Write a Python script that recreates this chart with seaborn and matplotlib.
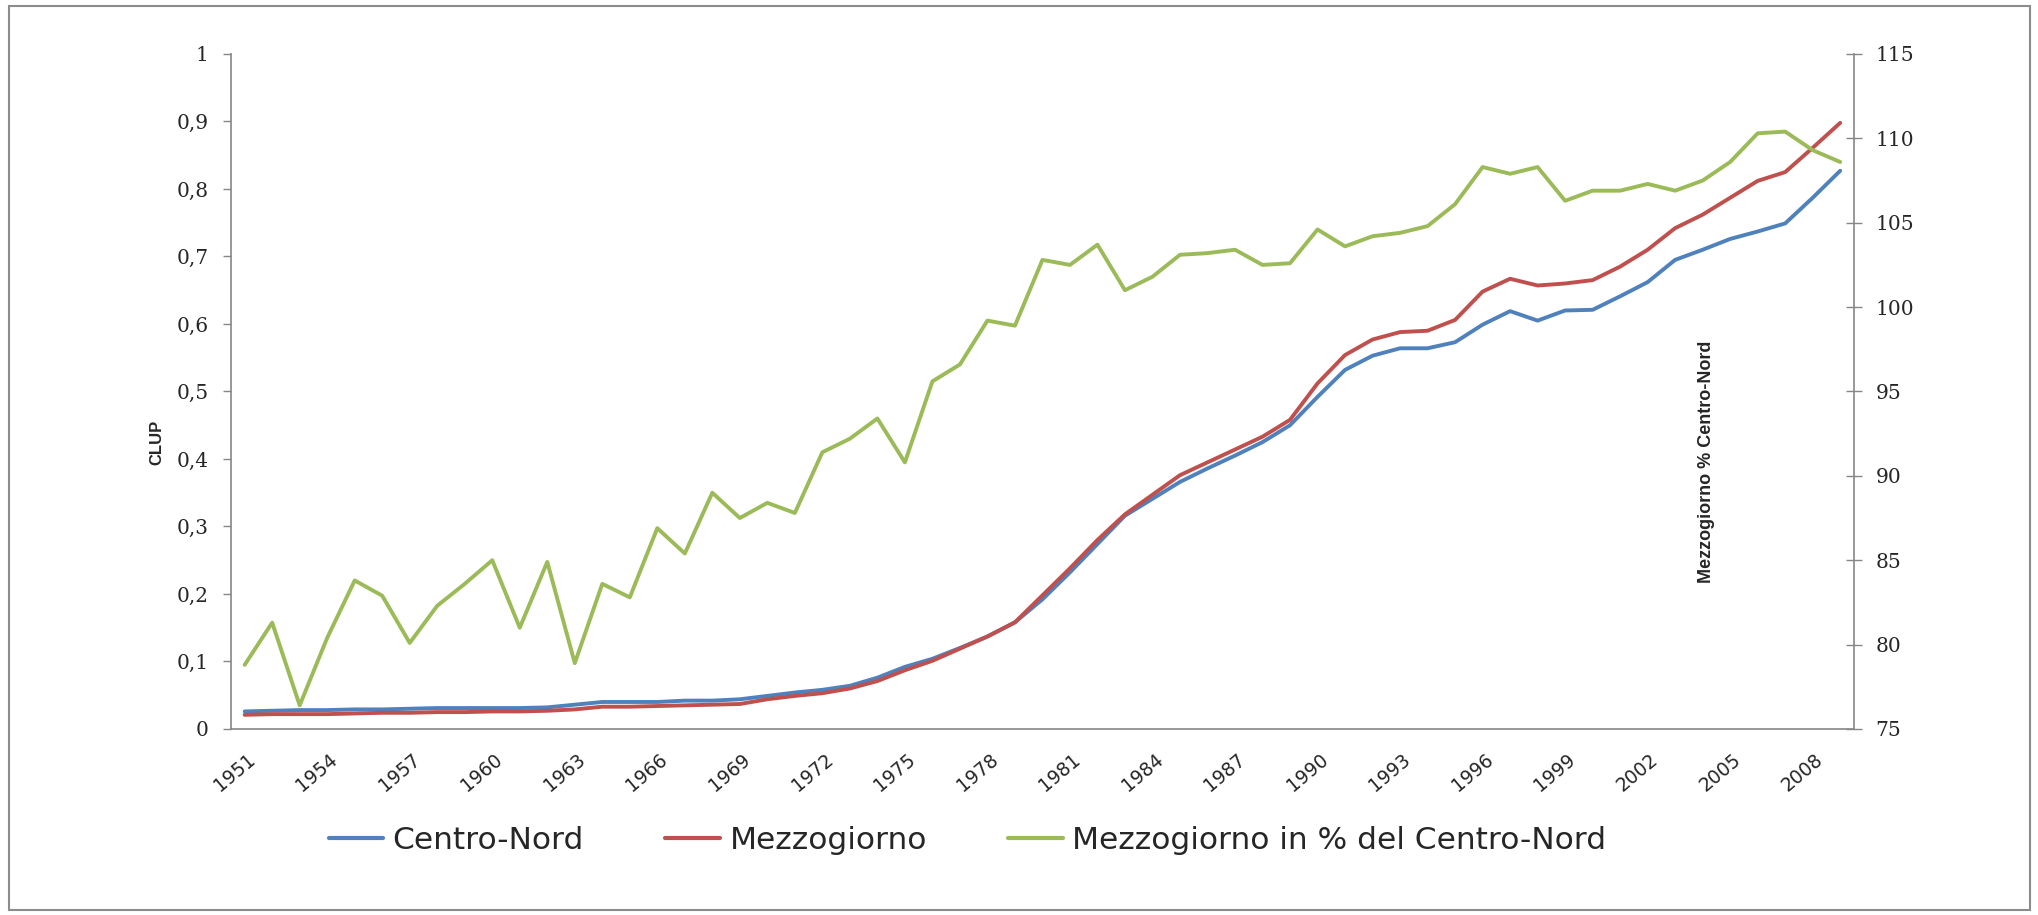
import numpy as np
import pandas as pd
import matplotlib
matplotlib.use('Agg')
import matplotlib.pyplot as plt
import matplotlib.transforms as mtransforms
from matplotlib.lines import Line2D
from matplotlib.patches import Rectangle
import seaborn as sns

# Data (1951-2009)
years = list(range(1951, 2010))

centro_nord = [0.026, 0.027, 0.028, 0.028, 0.029, 0.029, 0.030, 0.031, 0.031, 0.031,
               0.031, 0.032, 0.036, 0.040, 0.040, 0.040, 0.042, 0.042, 0.044, 0.049,
               0.054, 0.058, 0.064, 0.076, 0.092, 0.104, 0.120, 0.137, 0.158, 0.192,
               0.232, 0.274, 0.316, 0.341, 0.366, 0.386, 0.405, 0.425, 0.450, 0.492,
               0.532, 0.553, 0.564, 0.564, 0.573, 0.599, 0.619, 0.605, 0.620, 0.621,
               0.641, 0.662, 0.695, 0.710, 0.726, 0.737, 0.749, 0.787, 0.827]

mezzogiorno = [0.021, 0.022, 0.022, 0.022, 0.023, 0.024, 0.024, 0.025, 0.025, 0.026,
               0.026, 0.027, 0.029, 0.033, 0.033, 0.034, 0.035, 0.036, 0.037, 0.044,
               0.049, 0.053, 0.060, 0.071, 0.087, 0.101, 0.119, 0.137, 0.158, 0.198,
               0.238, 0.280, 0.318, 0.347, 0.376, 0.395, 0.414, 0.433, 0.458, 0.512,
               0.554, 0.577, 0.588, 0.590, 0.606, 0.648, 0.667, 0.657, 0.660, 0.665,
               0.685, 0.710, 0.742, 0.762, 0.787, 0.812, 0.825, 0.861, 0.898]

mezz_pct_cn = [78.8, 81.3, 76.4, 80.4, 83.8, 82.9, 80.1, 82.3, 83.6, 85.0,
               81.0, 84.9, 78.9, 83.6, 82.8, 86.9, 85.4, 89.0, 87.5, 88.4,
               87.8, 91.4, 92.2, 93.4, 90.8, 95.6, 96.6, 99.2, 98.9, 102.8,
               102.5, 103.7, 101.0, 101.8, 103.1, 103.2, 103.4, 102.5, 102.6, 104.6,
               103.6, 104.2, 104.4, 104.8, 106.1, 108.3, 107.9, 108.3, 106.3, 106.9,
               106.9, 107.3, 106.9, 107.5, 108.6, 110.3, 110.4, 109.3, 108.6]

df = pd.DataFrame({
    'pos': np.arange(len(years)),
    'Centro-Nord': centro_nord,
    'Mezzogiorno': mezzogiorno,
    'Pct': mezz_pct_cn,
})

# Excel 2007 default colours
blue = '#4F81BD'
red = '#C0504D'
green = '#9BBB59'
axis_gray = '#868686'

sns.set_style('white')
plt.rcParams['font.family'] = ['DejaVu Sans']

fig = plt.figure(figsize=(20.38, 9.15), dpi=100)
ax = fig.add_axes([0.1133, 0.2033, 0.7964, 0.7377])
ax2 = ax.twinx()

sns.lineplot(data=df, x='pos', y='Centro-Nord', ax=ax, color=blue, linewidth=2.8)
sns.lineplot(data=df, x='pos', y='Mezzogiorno', ax=ax, color=red, linewidth=2.8)
sns.lineplot(data=df, x='pos', y='Pct', ax=ax2, color=green, linewidth=2.8)

# Axes limits and ticks
ax.set_xlim(-0.5, len(years) - 0.5)
ax.set_ylim(0, 1)
ax2.set_ylim(75, 115)

left_ticks = np.round(np.arange(0, 1.01, 0.1), 1)
ax.set_yticks(left_ticks)
ax.set_yticklabels(['0' if v == 0 else ('1' if v == 1 else f'{v:.1f}'.replace('.', ','))
                    for v in left_ticks],
                   family='DejaVu Serif', fontsize=14.5)
ax2.set_yticks(range(75, 116, 5))
ax2.set_yticklabels([str(v) for v in range(75, 116, 5)], family='DejaVu Serif', fontsize=14.5)

ax.set_xticks(df['pos'][::3])
ax.set_xticklabels([str(y) for y in years[::3]], fontsize=13.5)
ax.set_xticks(np.arange(-0.5, len(years), 1), minor=True)

ax.tick_params(axis='x', which='major', length=0, pad=20)
ax.tick_params(axis='x', which='minor', length=5, width=1, color=axis_gray, direction='out')
ax.tick_params(axis='y', length=6, width=1, color=axis_gray, direction='out', pad=10)
ax2.tick_params(axis='y', length=11, width=1, color=axis_gray, direction='inout', pad=10)

offset = mtransforms.ScaledTranslation(0.08, 0, fig.dpi_scale_trans)
for lbl in ax.get_xticklabels():
    lbl.set_rotation(40)
    lbl.set_ha('right')
    lbl.set_va('center')
    lbl.set_rotation_mode('anchor')
    lbl.set_transform(lbl.get_transform() + offset)

# Spines
for a in (ax, ax2):
    a.spines['top'].set_visible(False)
ax.spines['right'].set_visible(False)
ax2.spines['left'].set_visible(False)
ax2.spines['bottom'].set_visible(False)
for s in ('left', 'bottom'):
    ax.spines[s].set_color(axis_gray)
    ax.spines[s].set_linewidth(1.2)
ax2.spines['right'].set_color(axis_gray)
ax2.spines['right'].set_linewidth(1.2)

# Axis titles
ax.set_xlabel('')
ax.set_ylabel('CLUP', fontsize=12, fontweight='bold', family='Liberation Sans')
ax.yaxis.set_label_coords(-0.041, 0.424)
ax2.set_ylabel('Mezzogiorno % Centro-Nord', fontsize=13, fontweight='bold',
               family='Liberation Sans')
ax2.yaxis.set_label_coords(0.904, 0.396)

# Legend under the plot
handles = [Line2D([], [], color=blue, lw=3),
           Line2D([], [], color=red, lw=3),
           Line2D([], [], color=green, lw=3)]
fig.legend(handles, ['Centro-Nord', 'Mezzogiorno', 'Mezzogiorno in % del Centro-Nord'],
           loc='center', bbox_to_anchor=(0.4747, 0.081), ncol=3, frameon=False,
           fontsize=22.5, handlelength=1.75, handletextpad=0.3, columnspacing=2.6)

# Outer chart frame
fig.patches.append(Rectangle((0.0045, 0.005), 0.9915, 0.988, transform=fig.transFigure,
                             fill=False, edgecolor='#8c8c8c', linewidth=1.5))

fig.savefig('out.png', dpi=100)
